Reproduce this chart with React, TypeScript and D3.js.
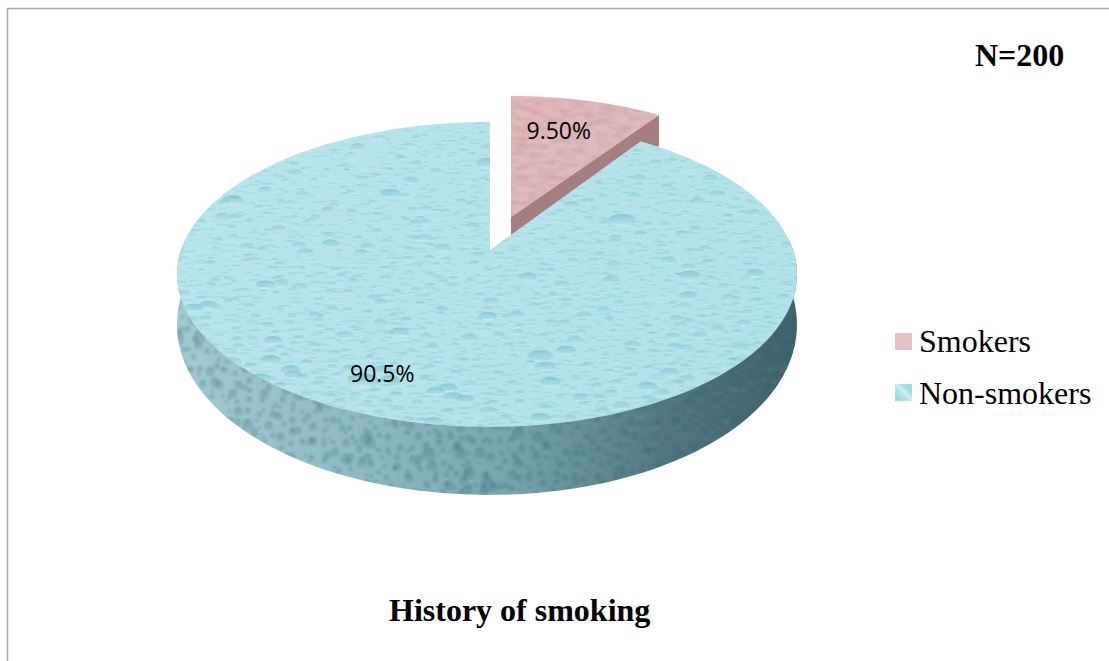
import React from "react";
import * as d3 from "d3";

// History of smoking, N=200
const categories = ["Smokers", "Non-smokers"];
const shares = [9.5, 90.5];
const valueLabels = ["9.50%", "90.5%"];
const chartTitle = "History of smoking";
const sampleNote = "N=200";

const W = 1109;
const H = 661;
const SERIF = "'Liberation Serif', 'Times New Roman', serif";
const SANS = "'Open Sans', 'Noto Sans', sans-serif";

type Disc = {
  x: number;
  y: number;
  rx: number;
  ry: number;
  tilt: number;
  skew: number;
  depth: (v: number) => number;
};

// Perspective discs: the far rim is compressed relative to the near one.
const mainDisc: Disc = { x: 490, y: 250, rx: 306, ry: 148.6, tilt: 0.16, skew: 3, depth: (v) => 47 + 21 * v };
const liftedDisc: Disc = { x: 511, y: 217, rx: 290, ry: 135.9, tilt: 0.123, skew: 0, depth: () => 31 };

const project = (d: Disc, angle: number, r: number, bottom = false): [number, number] => {
  const X = Math.sin(angle) * r;
  const Y = -Math.cos(angle) * r;
  const k = 1 / (1 - d.tilt * Y);
  const width = X < 0 ? d.rx + d.skew : d.rx - d.skew;
  return [d.x + width * X * k, d.y + d.ry * Y * k + (bottom ? d.depth(Y) : 0)];
};

const pieAngles = d3.pie<number>().sort(null)(shares);
const line = d3.line();

const rim = (d: Disc, a0: number, a1: number, bottom = false) =>
  d3.range(0, 161).map((i) => project(d, a0 + ((a1 - a0) * i) / 160, 1, bottom));

const wedgePath = (d: Disc, a0: number, a1: number, bottom = false) =>
  line([project(d, 0, 0, bottom), ...rim(d, a0, a1, bottom)])! + "Z";

const smokers = pieAngles[0];
const nonSmokers = pieAngles[1];

const mainTop = wedgePath(mainDisc, nonSmokers.startAngle, nonSmokers.endAngle);
const mainWall =
  line([
    ...rim(mainDisc, nonSmokers.startAngle, nonSmokers.endAngle),
    ...rim(mainDisc, nonSmokers.startAngle, nonSmokers.endAngle, true).reverse(),
  ])! + "Z";
const mainBase = wedgePath(mainDisc, nonSmokers.startAngle, nonSmokers.endAngle, true);

const liftedTop = wedgePath(liftedDisc, smokers.startAngle, smokers.endAngle);
const liftedWall =
  line([
    project(liftedDisc, 0, 0),
    project(liftedDisc, smokers.endAngle, 1),
    project(liftedDisc, smokers.endAngle, 1, true),
    project(liftedDisc, 0, 0, true),
  ])! + "Z";

// Water-droplet surface texture, laid out on a jittered grid with a fixed seed.
type Drop = { cx: number; cy: number; rx: number; ry: number };

const scatterDrops = (
  x0: number, x1: number, y0: number, y1: number,
  stepX: number, stepY: number, seed: number,
  shape: (u: number, v: number, y: number) => [number, number]
): Drop[] => {
  const rnd = d3.randomLcg(seed);
  const out: Drop[] = [];
  for (let y = y0; y < y1; y += stepY) {
    for (let x = x0; x < x1; x += stepX) {
      const u = rnd();
      const [rx, ry] = shape(u, rnd(), y);
      out.push({ cx: x + rnd() * stepX, cy: y + rnd() * stepY, rx, ry });
    }
  }
  return out;
};

const perspective = (y: number) => 0.8 + (0.4 * (y - 120)) / 310;

const rippleDrops = scatterDrops(177, 800, 120, 430, 13, 5.5, 0.19, (u, v, y) => {
  const r = (2 + u * 3) * perspective(y);
  return [r * (1 + v * 0.6), r * 0.36];
});
const topDrops = scatterDrops(177, 800, 120, 430, 24, 10, 0.31, (u, v, y) => {
  const s = perspective(y);
  const r = u > 0.975 ? 11 + v * 4 : u > 0.8 ? 6.5 + v * 3 : 2.5 + v * 3.5;
  return [r * s, r * s * 0.46];
});
const wallDrops = scatterDrops(177, 800, 280, 500, 10, 9, 0.67, (u, v) => {
  const r = u > 0.95 ? 6 + v * 3 : u > 0.6 ? 3.5 + v * 2 : 1.8 + v * 1.8;
  return [r * 0.85, r * 1.1];
});

export default function App() {
  return (
    <svg
      width={W}
      height={H}
      viewBox={`0 0 ${W} ${H}`}
      style={{ position: "absolute", left: 0, top: 0, background: "#fff", display: "block" }}
    >
      <defs>
        <filter id="soft" x="0" y="0" width="100%" height="100%">
          <feGaussianBlur stdDeviation="0.5" />
        </filter>
        <filter id="softer" x="0" y="0" width="100%" height="100%">
          <feGaussianBlur stdDeviation="0.9" />
        </filter>
        <filter id="pinkGrain" x="0" y="0" width="100%" height="100%" colorInterpolationFilters="sRGB">
          <feTurbulence type="fractalNoise" baseFrequency="0.07 0.16" numOctaves={2} seed={4} />
          <feColorMatrix type="matrix" values="0 0 0 0 0.78  0 0 0 0 0.58  0 0 0 0 0.6  0 0 0 1.1 -0.42" result="speck" />
          <feGaussianBlur in="speck" stdDeviation="0.7" result="soft" />
          <feMerge>
            <feMergeNode in="SourceGraphic" />
            <feMergeNode in="soft" />
          </feMerge>
        </filter>
        <linearGradient id="topFill" gradientUnits="userSpaceOnUse" x1="177" y1="120" x2="797" y2="430">
          <stop offset="0" stopColor="#b9e5ec" />
          <stop offset="1" stopColor="#b2e2e9" />
        </linearGradient>
        <linearGradient id="wallFill" gradientUnits="userSpaceOnUse" x1="177" y1="0" x2="797" y2="0">
          <stop offset="0" stopColor="#a2cad1" />
          <stop offset="0.3" stopColor="#8fbac3" />
          <stop offset="0.55" stopColor="#75a2ab" />
          <stop offset="0.78" stopColor="#517882" />
          <stop offset="1" stopColor="#3f6168" />
        </linearGradient>
        <linearGradient id="dropShade" x1="0" y1="0" x2="0" y2="1">
          <stop offset="0" stopColor="#74b8ca" stopOpacity="0.75" />
          <stop offset="0.65" stopColor="#94cfdb" stopOpacity="0.55" />
          <stop offset="1" stopColor="#e2f7f9" stopOpacity="0.75" />
        </linearGradient>
        <linearGradient id="wallShade" x1="0" y1="0" x2="0" y2="1">
          <stop offset="0" stopColor="#2f5a66" stopOpacity="0.3" />
          <stop offset="0.75" stopColor="#3f7380" stopOpacity="0.18" />
          <stop offset="1" stopColor="#c6e4e8" stopOpacity="0.14" />
        </linearGradient>
        <linearGradient id="swatchWater" x1="0" y1="1" x2="1" y2="0">
          <stop offset="0" stopColor="#8fd4e2" />
          <stop offset="0.4" stopColor="#b5e4ec" />
          <stop offset="0.55" stopColor="#d2f0f5" />
          <stop offset="0.7" stopColor="#a4dce7" />
          <stop offset="1" stopColor="#9bd9e5" />
        </linearGradient>
        <clipPath id="mainTopClip"><path d={mainTop} /></clipPath>
        <clipPath id="mainWallClip"><path d={mainBase} /><path d={mainWall} /></clipPath>
        <clipPath id="liftedTopClip"><path d={liftedTop} /></clipPath>
      </defs>

      <rect width={W} height={H} fill="#fff" />
      <path d={`M7.5 661V8.5H${W}`} fill="none" stroke="#a6a6a6" strokeWidth={1.5} />

      {/* Pulled-out smokers slice, drawn first so the main disc overlaps its wall */}
      <path d={liftedWall} fill="#a47e80" />
      <g clipPath="url(#liftedTopClip)">
        <rect x={490} y={80} width={200} height={160} fill="#dfb9bb" filter="url(#pinkGrain)" />
      </g>

      {/* Non-smokers slice: wall and base first, top face over them */}
      <g clipPath="url(#mainWallClip)">
        <rect x={160} y={240} width={660} height={270} fill="url(#wallFill)" />
        <g filter="url(#softer)">
          {wallDrops.map((d, i) => (
            <ellipse key={i} cx={d.cx} cy={d.cy} rx={d.rx} ry={d.ry} fill="url(#wallShade)" />
          ))}
        </g>
      </g>
      <g clipPath="url(#mainTopClip)">
        <rect x={160} y={110} width={660} height={330} fill="url(#topFill)" />
        <g filter="url(#soft)">
          {rippleDrops.map((d, i) => (
            <ellipse key={i} cx={d.cx} cy={d.cy} rx={d.rx} ry={d.ry} fill="url(#dropShade)" opacity={0.42} />
          ))}
          {topDrops.map((d, i) => (
            <ellipse key={i} cx={d.cx} cy={d.cy} rx={d.rx} ry={d.ry} fill="url(#dropShade)" opacity={d.rx > 9 ? 0.85 : 0.6} />
          ))}
        </g>
      </g>

      <text x={526.5} y={138.5} fontFamily={SANS} fontSize={23} fill="#000">{valueLabels[0]}</text>
      <text x={350} y={382} fontFamily={SANS} fontSize={23} fill="#000">{valueLabels[1]}</text>

      <text x={975} y={66} fontFamily={SERIF} fontWeight="bold" fontSize={32} fill="#000">{sampleNote}</text>

      <rect x={895} y={333} width={17} height={17} fill="#e6c1c4" />
      <text x={919} y={352} fontFamily={SERIF} fontSize={32} fill="#000">{categories[0]}</text>
      <rect x={895} y={384} width={17} height={17} fill="url(#swatchWater)" />
      <text x={919} y={404} fontFamily={SERIF} fontSize={32} fill="#000">{categories[1]}</text>

      <text x={389} y={621} fontFamily={SERIF} fontWeight="bold" fontSize={32} fill="#000">{chartTitle}</text>
    </svg>
  );
}
